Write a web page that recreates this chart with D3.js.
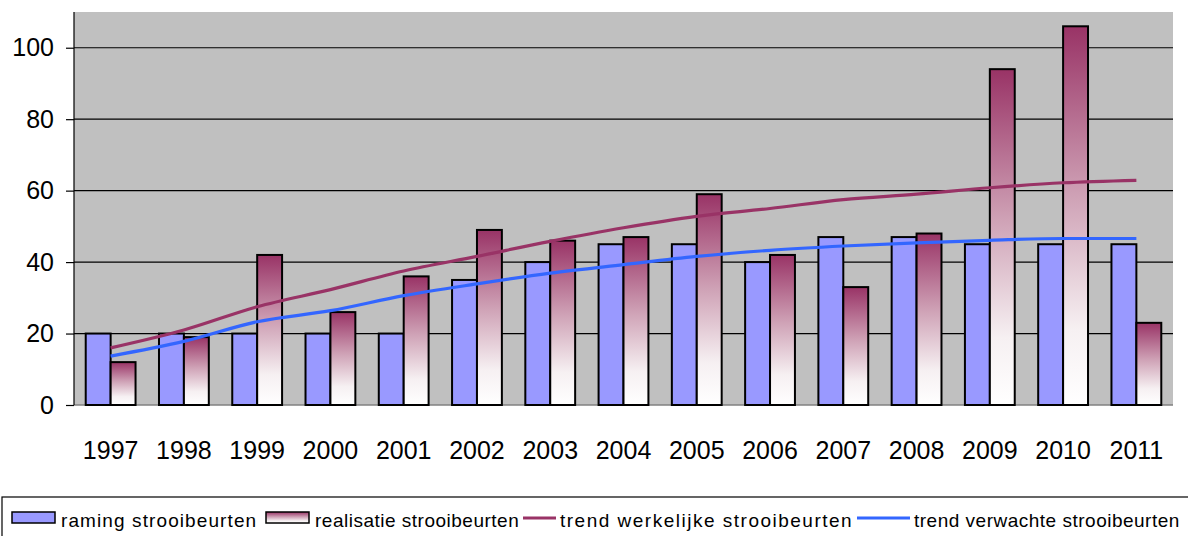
<!DOCTYPE html>
<html>
<head>
<meta charset="utf-8">
<script src="https://cdn.jsdelivr.net/npm/d3@7"></script>
<style>
  body { margin: 0; background: #fff; }
  svg { display: block; font-family: "Liberation Sans", Arial, sans-serif; }
  .axis path { display: none; }
</style>
</head>
<body>
<script>
// data
var years = ["1997","1998","1999","2000","2001","2002","2003","2004","2005","2006","2007","2008","2009","2010","2011"];
var raming = [20, 20, 20, 20, 20, 35, 40, 45, 45, 40, 47, 47, 45, 45, 45];
var realisatie = [12, 19, 42, 26, 36, 49, 46, 47, 59, 42, 33, 48, 94, 106, 23];
var trendWerkelijk = [16, 21, 27.5, 32.3, 37.5, 41.6, 45.8, 49.6, 52.8, 55, 57.5, 59, 60.8, 62.2, 62.9];
var trendVerwacht = [13.7, 17.8, 23.3, 26.4, 30.6, 33.9, 36.9, 39.3, 41.6, 43.3, 44.5, 45.4, 46.1, 46.6, 46.6];
var yTicks = [0, 20, 40, 60, 80, 100];
var seriesNames = ["raming strooibeurten", "realisatie strooibeurten", "trend werkelijke strooibeurten", "trend verwachte strooibeurten"];

var W = 1188, H = 536;
var plot = {left: 74, right: 1173, top: 12, bottom: 405};

var svg = d3.select("body").append("svg")
    .attr("width", W)
    .attr("height", H);

// gradient for realisatie bars
var defs = svg.append("defs");
var grad = defs.append("linearGradient")
    .attr("id", "plum")
    .attr("x1", 0).attr("y1", 0).attr("x2", 0).attr("y2", 1);
grad.append("stop").attr("offset", "0%").attr("stop-color", "#993366");
grad.append("stop").attr("offset", "45%").attr("stop-color", "#cfa2b6");
grad.append("stop").attr("offset", "80%").attr("stop-color", "#f6f0f2");
grad.append("stop").attr("offset", "100%").attr("stop-color", "#ffffff");

// scales
var x = d3.scaleBand()
    .domain(years)
    .range([plot.left, plot.right])
    .paddingInner(0.32)
    .paddingOuter(0.16);

var xSub = d3.scaleBand()
    .domain(["raming", "realisatie"])
    .range([0, x.bandwidth()]);

var y = d3.scaleLinear()
    .domain([0, 110])
    .range([plot.bottom, plot.top]);

// plot background
svg.append("rect")
    .attr("x", plot.left)
    .attr("y", plot.top)
    .attr("width", plot.right - plot.left)
    .attr("height", plot.bottom - plot.top)
    .attr("fill", "#c0c0c0");

// gridlines
svg.selectAll(".grid")
    .data(yTicks.filter(function(d) { return d > 0; }))
  .enter().append("line")
    .attr("class", "grid")
    .attr("x1", plot.left)
    .attr("x2", plot.right)
    .attr("y1", function(d) { return y(d); })
    .attr("y2", function(d) { return y(d); })
    .attr("stroke", "#000")
    .attr("stroke-width", 1.2);

// bottom baseline
svg.append("line")
    .attr("x1", plot.left).attr("x2", plot.right)
    .attr("y1", y(0)).attr("y2", y(0))
    .attr("stroke", "#808080")
    .attr("stroke-width", 1.5);

// y axis
var yAxis = svg.append("g")
    .attr("class", "axis")
    .attr("transform", "translate(" + plot.left + ",0)")
    .call(d3.axisLeft(y).tickValues(yTicks).tickSize(8).tickPadding(12));
yAxis.selectAll("line").attr("stroke", "#000").attr("stroke-width", 1.2);
yAxis.selectAll("text")
    .attr("fill", "#000")
    .style("font-size", "25px")
    .style("font-family", "'Liberation Sans', Arial, sans-serif");
svg.append("line")
    .attr("x1", plot.left).attr("x2", plot.left)
    .attr("y1", plot.top).attr("y2", plot.bottom)
    .attr("stroke", "#000")
    .attr("stroke-width", 1.2);

// x axis labels
var xAxis = svg.append("g")
    .attr("class", "axis")
    .attr("transform", "translate(0," + plot.bottom + ")")
    .call(d3.axisBottom(x).tickSize(0).tickPadding(36));
xAxis.selectAll("text")
    .attr("fill", "#000")
    .style("font-size", "25px")
    .style("font-family", "'Liberation Sans', Arial, sans-serif");

// bars
var groups = svg.selectAll(".yr")
    .data(years)
  .enter().append("g")
    .attr("class", "yr")
    .attr("transform", function(d) { return "translate(" + x(d) + ",0)"; });

groups.append("rect")
    .attr("x", xSub("raming"))
    .attr("y", function(d, i) { return y(raming[i]); })
    .attr("width", xSub.bandwidth())
    .attr("height", function(d, i) { return y(0) - y(raming[i]); })
    .attr("fill", "#9999ff")
    .attr("stroke", "#000")
    .attr("stroke-width", 2);

groups.append("rect")
    .attr("x", xSub("realisatie"))
    .attr("y", function(d, i) { return y(realisatie[i]); })
    .attr("width", xSub.bandwidth())
    .attr("height", function(d, i) { return y(0) - y(realisatie[i]); })
    .attr("fill", "url(#plum)")
    .attr("stroke", "#000")
    .attr("stroke-width", 2);

// trend lines
var line = d3.line()
    .x(function(d, i) { return x(years[i]) + x.bandwidth() / 2; })
    .y(function(d) { return y(d); })
    .curve(d3.curveMonotoneX);

svg.append("path")
    .datum(trendWerkelijk)
    .attr("d", line)
    .attr("fill", "none")
    .attr("stroke", "#993366")
    .attr("stroke-width", 3.2);

svg.append("path")
    .datum(trendVerwacht)
    .attr("d", line)
    .attr("fill", "none")
    .attr("stroke", "#3366ff")
    .attr("stroke-width", 3.2);

// legend
var legend = svg.append("g").attr("class", "legend");
legend.append("rect")
    .attr("x", 2).attr("y", 497)
    .attr("width", 1200).attr("height", 60)
    .attr("fill", "#fff")
    .attr("stroke", "#000")
    .attr("stroke-width", 1.2);

var legendItems = [
  {name: seriesNames[0], kind: "bar", fill: "#9999ff", sx: 12, tx: 61, ls: 1.1},
  {name: seriesNames[1], kind: "bar", fill: "url(#plum)", sx: 266, tx: 315, ls: 0.5},
  {name: seriesNames[2], kind: "line", stroke: "#993366", sx: 523, tx: 560, ls: 1.5},
  {name: seriesNames[3], kind: "line", stroke: "#3366ff", sx: 857, tx: 914, ls: 0.5}
];

var li = legend.selectAll(".li")
    .data(legendItems)
  .enter().append("g")
    .attr("class", "li");

li.filter(function(d) { return d.kind === "bar"; })
  .append("rect")
    .attr("x", function(d) { return d.sx; })
    .attr("y", 512)
    .attr("width", 43)
    .attr("height", 11)
    .attr("fill", function(d) { return d.fill; })
    .attr("stroke", "#000")
    .attr("stroke-width", 1.5);

li.filter(function(d) { return d.kind === "line"; })
  .append("line")
    .attr("x1", function(d) { return d.sx; })
    .attr("x2", function(d) { return d.tx - 4; })
    .attr("y1", 518).attr("y2", 518)
    .attr("stroke", function(d) { return d.stroke; })
    .attr("stroke-width", 3.2);

li.append("text")
    .attr("x", function(d) { return d.tx; })
    .attr("y", 527)
    .style("font-size", "19px")
    .style("letter-spacing", function(d) { return d.ls + "px"; })
    .attr("fill", "#000")
    .text(function(d) { return d.name; });
</script>
</body>
</html>
